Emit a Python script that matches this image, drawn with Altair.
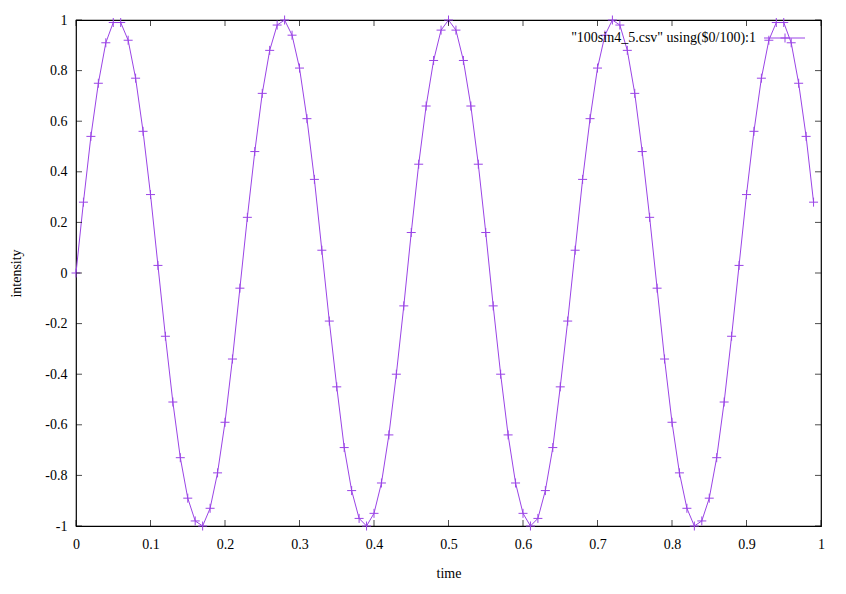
import altair as alt
import pandas as pd

# x = row index / 100, y = intensity
time = [i / 100 for i in range(100)]
intensity = [
    0.00, 0.28, 0.54, 0.75, 0.91, 0.99, 0.99, 0.92, 0.77, 0.56,
    0.31, 0.03, -0.25, -0.51, -0.73, -0.89, -0.98, -1.00, -0.93, -0.79,
    -0.59, -0.34, -0.06, 0.22, 0.48, 0.71, 0.88, 0.98, 1.00, 0.94,
    0.81, 0.61, 0.37, 0.09, -0.19, -0.45, -0.69, -0.86, -0.97, -1.00,
    -0.95, -0.83, -0.64, -0.40, -0.13, 0.16, 0.43, 0.66, 0.84, 0.96,
    1.00, 0.96, 0.84, 0.66, 0.43, 0.16, -0.13, -0.40, -0.64, -0.83,
    -0.95, -1.00, -0.97, -0.86, -0.69, -0.45, -0.19, 0.09, 0.37, 0.61,
    0.81, 0.94, 1.00, 0.98, 0.88, 0.71, 0.48, 0.22, -0.06, -0.34,
    -0.59, -0.79, -0.93, -1.00, -0.98, -0.89, -0.73, -0.51, -0.25, 0.03,
    0.31, 0.56, 0.77, 0.92, 0.99, 0.99, 0.91, 0.75, 0.54, 0.28,
]
x_ticks = [0, 0.1, 0.2, 0.3, 0.4, 0.5, 0.6, 0.7, 0.8, 0.9, 1]
y_ticks = [-1, -0.8, -0.6, -0.4, -0.2, 0, 0.2, 0.4, 0.6, 0.8, 1]
legend_label = '"100sin4_5.csv" using($0/100):1'

W, H = 745, 506
COLOR = "#9a44e6"
FONT = "Liberation Serif"
FS = 14
PLUS = "M-1,0L1,0M0,-1L0,1"

df = pd.DataFrame({"time": time, "intensity": intensity})
xt = pd.DataFrame({"v": x_ticks})
yt = pd.DataFrame({"v": y_ticks})

xscale = alt.Scale(domain=[0, 1], nice=False, zero=False)
yscale = alt.Scale(domain=[-1, 1], nice=False, zero=False)

xaxis = alt.Axis(values=x_ticks, ticks=False, domain=False, grid=False,
                 labelExpr="'' + datum.value", labelPadding=11,
                 title="time", titlePadding=15, labelFlush=False,
                 labelFont=FONT, labelFontSize=FS, labelColor="black",
                 titleFont=FONT, titleFontSize=FS, titleColor="black",
                 titleFontWeight="normal")
yaxis = alt.Axis(values=y_ticks, ticks=False, domain=False, grid=False,
                 labelExpr="'' + datum.value", labelPadding=9,
                 title="intensity", titlePadding=21,
                 labelFont=FONT, labelFontSize=FS, labelColor="black",
                 titleFont=FONT, titleFontSize=FS, titleColor="black",
                 titleFontWeight="normal")

line = alt.Chart(df).mark_line(color=COLOR, strokeWidth=1).encode(
    x=alt.X("time:Q", scale=xscale, axis=xaxis),
    y=alt.Y("intensity:Q", scale=yscale, axis=yaxis),
)
pts = alt.Chart(df).mark_point(shape=PLUS, size=81, filled=False,
                               color=COLOR, strokeWidth=1, opacity=1).encode(
    x=alt.X("time:Q", scale=xscale),
    y=alt.Y("intensity:Q", scale=yscale),
)

tick_style = dict(color="black", thickness=1, size=6)
xt_bottom = alt.Chart(xt).mark_tick(orient="vertical", **tick_style).encode(
    x=alt.X("v:Q", scale=xscale), y=alt.value(H - 3))
xt_top = alt.Chart(xt).mark_tick(orient="vertical", **tick_style).encode(
    x=alt.X("v:Q", scale=xscale), y=alt.value(3))
yt_left = alt.Chart(yt).mark_tick(orient="horizontal", **tick_style).encode(
    y=alt.Y("v:Q", scale=yscale), x=alt.value(3))
yt_right = alt.Chart(yt).mark_tick(orient="horizontal", **tick_style).encode(
    y=alt.Y("v:Q", scale=yscale), x=alt.value(W - 3))

leg_df = pd.DataFrame({"label": [legend_label]})
leg_text = alt.Chart(leg_df).mark_text(align="right", baseline="middle",
                                       font=FONT, fontSize=FS, color="black").encode(
    text="label:N", x=alt.value(680), y=alt.value(18))
leg_line = alt.Chart(leg_df).mark_rule(color=COLOR, strokeWidth=1).encode(
    x=alt.value(688), x2=alt.value(729), y=alt.value(18))
leg_pt = alt.Chart(leg_df).mark_point(shape=PLUS, size=81, filled=False,
                                      color=COLOR, strokeWidth=1, opacity=1).encode(
    x=alt.value(709), y=alt.value(18))

chart = alt.layer(line, pts, xt_bottom, xt_top, yt_left, yt_right,
                  leg_text, leg_line, leg_pt).properties(
    width=W, height=H,
    background="white",
    autosize=alt.AutoSizeParams(type="none"),
    padding={"left": 68, "top": 12, "right": 10, "bottom": 60},
).configure_view(stroke="black", strokeWidth=1.2)

chart.save("out.html", embed_options={"renderer": "svg", "actions": False})
